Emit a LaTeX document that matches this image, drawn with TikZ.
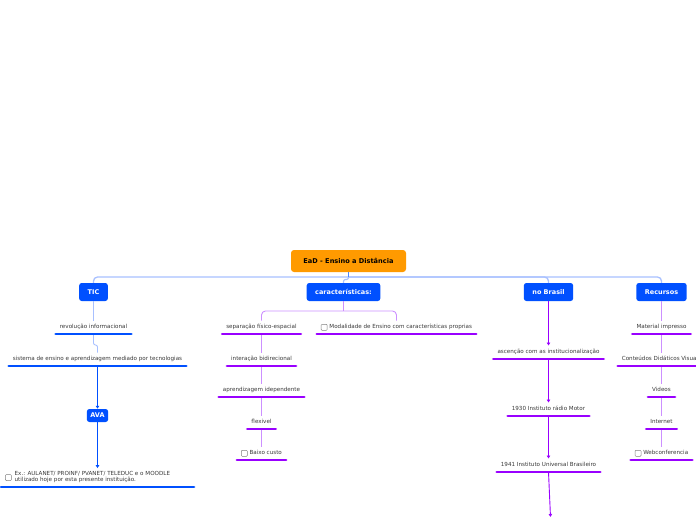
\documentclass[tikz,border=0pt]{standalone}
\usepackage{fontspec}
\setmainfont{DejaVu Sans}
\usetikzlibrary{arrows.meta}
\definecolor{mapblue}{HTML}{0050FF}
\definecolor{maporange}{HTML}{FF9A00}
\definecolor{mappurple}{HTML}{9900FF}
\definecolor{maplilac}{HTML}{CC90FF}
\definecolor{mapsky}{HTML}{A8C0FF}
\definecolor{maptext}{HTML}{383838}
\newcommand{\chkbox}{\tikz[baseline=1.5pt]\draw[gray,line width=0.45pt,rounded corners=0.9pt] (0pt,0pt) rectangle (6pt,6pt);}

\begin{document}
\begin{tikzpicture}[x=1pt,y=-1pt,
    rootbox/.style={fill=maporange,text=black,rounded corners=3pt,minimum width=115pt,minimum height=22pt,font=\fontsize{6.6}{7.5}\selectfont\bfseries},
    mainbox/.style={fill=mapblue,text=white,rounded corners=2.5pt,minimum height=18pt,inner xsep=8.5pt,font=\fontsize{6.5}{7.5}\selectfont\bfseries},
    topic/.style={anchor=south,text=maptext,font=\fontsize{5.6}{6.4}\selectfont,text height=4pt,text depth=1pt,inner xsep=4pt,inner ysep=4pt},
    exbox/.style={anchor=south west,text=maptext,font=\fontsize{5.6}{6.2}\selectfont,inner xsep=4pt,inner ysep=3pt},
    uline/.style={line width=2.7pt,line cap=round,#1},
    link/.style={line width=0.9pt,#1},
    arrowlink/.style={line width=0.9pt,#1,-{Latex[length=3pt,width=4pt]}}]
\useasboundingbox (0,0) rectangle (696,520);

    \node[rootbox] (1) at (348.5,261) {EaD - Ensino a Distância};
    \node[mainbox] (2) at (93.5,292) {TIC};
    \node[mainbox] (3) at (343.5,292) {características:};
    \node[mainbox] (4) at (548.5,292) {no Brasil};
    \node[mainbox] (5) at (661.5,292) {Recursos};

    \node[topic] (6) at (93.5,334) {revolução informacional};
    \node[topic] (7) at (97.5,366) {sistema de ensino e aprendizagem mediado por tecnologias};
    \node[mainbox, minimum height=13pt, inner xsep=3.5pt] (8) at (97.5,415.5) {AVA};
    \node[exbox] (9) at (1,487) {\chkbox\hspace{3pt}\begin{tabular}{@{}l@{}}Ex.: AULANET/ PROINF/ PVANET/ TELEDUC e o MOODLE\\utilizado hoje por esta presente instituição.\end{tabular}};

    \node[topic] (10) at (261.5,334) {separação físico-espacial};
    \node[topic] (11) at (396.5,334) {\chkbox\hspace{2pt}Modalidade de Ensino com características proprias};
    \node[topic] (12) at (261.5,366) {interação bidirecional};
    \node[topic] (13) at (261.5,397) {aprendizagem idependente};
    \node[topic] (14) at (261.5,429) {flexivel};
    \node[topic] (15) at (261.5,460) {\chkbox\hspace{2pt}Baixo custo};

    \node[topic] (16) at (548.5,359) {ascenção com as institucionalização};
    \node[topic] (17) at (548.5,416) {1930 Instituto rádio Motor};
    \node[topic] (18) at (548.5,472) {1941 Instituto Universal Brasileiro};

    \node[topic] (19) at (661.5,334) {Material impresso};
    \node[topic] (20) at (661.5,366) {Conteúdos Didáticos Visuais};
    \node[topic] (21) at (661.5,397) {Videos};
    \node[topic] (22) at (661.5,429) {Internet};
    \node[topic] (23) at (661.5,460) {\chkbox\hspace{2pt}Webconferencia};

    \coordinate (bus) at (348.5,277);
    \coordinate (cbus) at (343.5,311);
    \coordinate (more) at (550.5,517);

\begin{scope}[line join=round]
    \draw[link=mapsky, line width=1.3pt, rounded corners=4pt] (2.north) |- (bus) -| (5.north);
    \draw[link=mapsky, line width=1.3pt, rounded corners=4pt] (bus) -| (4.north);
    \draw[link=mapsky, line width=1.1pt, rounded corners=2pt] (bus) -- ++(0,2.5) -| (3.north);
    \draw[link=mapblue!70!white, line width=1.3pt] (1.south) -- (bus);

    \draw[link=mapsky] (2.south) -- (6.north);
    \draw[link=mapsky, rounded corners=2pt] (6.south) -- ++(0,11) -| (7.north);
    \draw[arrowlink=mapblue] (7.south) -- (8.north);
    \draw[arrowlink=mapblue] (8.south) -- (8.south |- 9.north);

    \draw[link=maplilac] (3.south) -- (cbus);
    \draw[link=maplilac, rounded corners=4pt] (10.north) |- (cbus) -| (11.north);
    \foreach \a/\b in {10/12, 12/13, 13/14, 14/15, 5/19, 19/20, 20/21, 21/22, 22/23}
      \draw[link=maplilac] (\a.south) -- (\b.north);

    \draw[arrowlink=mappurple] (4.south) -- (16.north);
    \draw[arrowlink=mappurple] (16.south) -- (17.north);
    \draw[arrowlink=mappurple] (17.south) -- (18.north);
    \draw[arrowlink=mappurple] (18.south) -- (more);
\end{scope}

    \foreach \n in {6, 7}
      \draw[uline=mapblue] (\n.south west) -- (\n.south east);
    \draw[uline=mapblue] (9.south west) -- ([xshift=193pt]9.south west);
    \foreach \n in {10, 11, 12, 13, 14, 15, 16, 17, 18, 19, 20, 21, 22, 23}
      \draw[uline=mappurple] (\n.south west) -- (\n.south east);

\end{tikzpicture}
\end{document}
